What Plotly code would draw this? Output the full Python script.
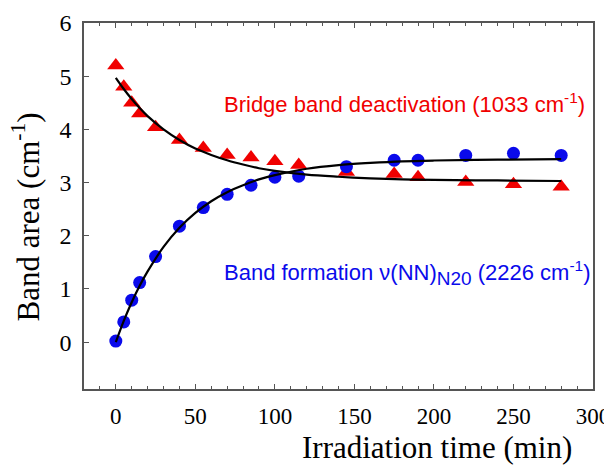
import plotly.graph_objects as go

# Data
time_min = [0, 5, 10, 15, 25, 40, 55, 70, 85, 100, 115, 145, 175, 190, 220, 250, 280]
bridge_area = [5.20, 4.80, 4.50, 4.30, 4.04, 3.80, 3.65, 3.52, 3.47, 3.40, 3.33, 3.20, 3.16, 3.10, 3.01, 2.97, 2.92]
n2o_area = [0.02, 0.38, 0.79, 1.12, 1.61, 2.18, 2.53, 2.78, 2.95, 3.10, 3.12, 3.30, 3.42, 3.42, 3.51, 3.55, 3.51]

# Fitted curves
fit_time = [0, 5, 10, 15, 20, 30, 40, 50, 60, 70, 80, 90, 100, 120, 140, 160, 180, 200, 240, 280]
bridge_fit = [4.97, 4.76, 4.57, 4.40, 4.25, 4.00, 3.80, 3.64, 3.52, 3.42, 3.34, 3.27, 3.22, 3.15, 3.11, 3.08, 3.06, 3.05, 3.04, 3.03]
n2o_fit = [0.00, 0.40, 0.75, 1.06, 1.33, 1.79, 2.15, 2.43, 2.65, 2.82, 2.95, 3.06, 3.14, 3.26, 3.33, 3.37, 3.40, 3.415, 3.43, 3.44]

x_ticks = [0, 50, 100, 150, 200, 250, 300]
y_ticks = [0, 1, 2, 3, 4, 5, 6]

RED = "rgb(240,0,0)"
BLUE = "rgb(10,10,235)"
AXC = "#555555"
SERIF = "Liberation Serif, Times New Roman, serif"
SANS = "Liberation Sans, Arial, sans-serif"

fig = go.Figure()
fig.add_trace(go.Scatter(x=time_min, y=bridge_area, mode="markers",
                         marker=dict(symbol="triangle-up", size=15, color=RED, line=dict(width=0)),
                         showlegend=False))
fig.add_trace(go.Scatter(x=time_min, y=n2o_area, mode="markers",
                         marker=dict(symbol="circle", size=13, color=BLUE, line=dict(width=0)),
                         showlegend=False))
fig.add_trace(go.Scatter(x=fit_time, y=bridge_fit, mode="lines", line_shape="spline",
                         line=dict(color="black", width=2.2), showlegend=False))
fig.add_trace(go.Scatter(x=fit_time, y=n2o_fit, mode="lines", line_shape="spline",
                         line=dict(color="black", width=2.2), showlegend=False))

fig.update_xaxes(range=[-20, 300], tickvals=x_ticks, ticks="inside", ticklen=5, tickwidth=1.2,
                 tickcolor=AXC, showline=True, linecolor=AXC, linewidth=1.5, mirror="ticks",
                 showgrid=False, zeroline=False, ticklabelstandoff=6, automargin=False,
                 ticklabeloverflow="allow",
                 tickfont=dict(family=SERIF, size=23, color="black"),
                 minor=dict(dtick=10, tick0=0, ticks="inside", ticklen=3, tickcolor=AXC, showgrid=False))
fig.update_yaxes(range=[-0.88, 6], tickvals=y_ticks, ticks="inside", ticklen=5, tickwidth=1.2,
                 tickcolor=AXC, showline=True, linecolor=AXC, linewidth=1.5, mirror=True,
                 showgrid=False, zeroline=False, ticklabelstandoff=6, automargin=False,
                 tickfont=dict(family=SERIF, size=24, color="black"))

fig.add_annotation(x=66.8, y=4.49, xref="x", yref="y", xanchor="left", yanchor="middle",
                   text="Bridge band deactivation (1033 cm<sup>-1</sup>)", showarrow=False,
                   font=dict(family=SANS, size=22, color=RED))
fig.add_annotation(x=66.8, y=1.30, xref="x", yref="y", xanchor="left", yanchor="middle",
                   text="Band formation ν(NN)<sub><span style='font-size:19px'>N20</span></sub> (2226 cm<sup>-1</sup>)",
                   showarrow=False, font=dict(family=SANS, size=22, color=BLUE))
fig.add_annotation(x=0.694, y=-0.16, xref="paper", yref="paper", xanchor="center", yanchor="middle",
                   text="Irradiation time (min)", showarrow=False,
                   font=dict(family=SERIF, size=31, color="black"))
fig.add_annotation(x=-0.113, y=0.47, xref="paper", yref="paper", xanchor="center", yanchor="middle",
                   text="Band area (cm<sup>-1</sup>)", showarrow=False, textangle=-90,
                   font=dict(family=SERIF, size=31, color="black"))

# The page body adds an 8px offset, so the figure is 8px smaller with shifted margins
fig.update_layout(width=604, height=459, margin=dict(l=76, r=19, t=15, b=78),
                  plot_bgcolor="white", paper_bgcolor="white")

fig.write_html("out.html")
